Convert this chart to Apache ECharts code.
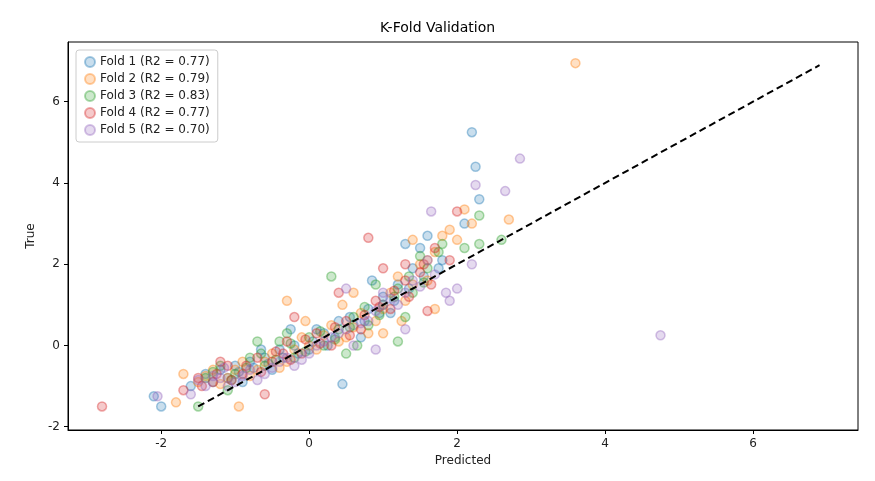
<!DOCTYPE html>
<html>
<head>
<meta charset="utf-8">
<script src="https://cdn.jsdelivr.net/npm/echarts@6/dist/echarts.min.js"></script>
<style>html,body{margin:0;padding:0;background:#fff}#c{width:875px;height:481px}</style>
</head>
<body>
<div id="c"></div>
<script>
// fold names, r2 and colours
const foldNames = ['Fold 1 (R2 = 0.77)', 'Fold 2 (R2 = 0.79)', 'Fold 3 (R2 = 0.83)', 'Fold 4 (R2 = 0.77)', 'Fold 5 (R2 = 0.70)']
const foldColors = ['31,119,180', '255,127,14', '44,160,44', '214,39,40', '148,103,189']
const tickValues = [-2, 0, 2, 4, 6]

// [predicted, true]
const fold1 = [[2.2,5.25],[2.25,4.4],[2.3,3.6],[2.1,3.0],[-2.1,-1.25],[-2.0,-1.5],[0.45,-0.95],[1.3,2.5],[1.6,2.7],
  [-1.4,-0.7],[-1.2,-0.6],[-1.0,-0.5],[-0.8,-0.4],[-0.6,-0.3],[-0.4,-0.1],[-0.2,0.0],[0.0,-0.1],[0.2,0.3],[0.4,0.6],
  [0.6,0.5],[0.8,0.9],[1.0,1.2],[1.2,1.5],[1.4,1.9],[1.5,2.4],[-0.9,-0.9],[-0.5,-0.6],[0.1,0.4],[0.7,0.2],[1.1,0.8],[1.8,2.1],[-1.6,-1.0],
  [-1.3,-0.9],[-1.1,-0.8],[-0.95,-0.65],[-0.75,-0.55],[-0.55,-0.45],[-0.35,-0.3],[-0.15,-0.2],[0.05,0.1],[0.25,0.0],[0.35,0.2],
  [0.55,0.7],[0.75,0.6],[0.95,0.8],[1.15,1.1],[1.35,1.4],[1.55,1.7],[1.75,1.9],[-0.25,0.4],[-0.65,-0.1],[0.85,1.6]]
const fold2 = [[3.6,6.95],[2.7,3.1],[2.1,3.35],[-1.8,-1.4],[-0.3,1.1],[-0.95,-1.5],[1.9,2.85],[1.7,0.9],[2.2,3.0],
  [-1.5,-0.9],[-1.3,-0.6],[-1.1,-0.8],[-0.9,-0.4],[-0.7,-0.6],[-0.5,-0.2],[-0.3,-0.4],[-0.1,0.2],[0.1,-0.1],[0.3,0.5],
  [0.5,0.2],[0.7,0.8],[0.9,0.6],[1.1,1.3],[1.3,1.1],[1.5,2.0],[1.7,2.3],[1.4,2.6],[-1.7,-0.7],[0.6,1.3],[1.0,0.3],[1.6,1.6],
  [-1.4,-0.75],[-1.2,-0.95],[-1.0,-0.6],[-0.8,-0.75],[-0.6,-0.4],[-0.4,-0.55],[-0.2,-0.1],[0.0,0.0],[0.2,0.25],[0.4,0.1],
  [0.6,0.45],[0.8,0.3],[1.0,0.9],[1.2,1.7],[1.4,1.5],[1.6,2.1],[1.8,2.7],[2.0,2.6],[-0.05,0.6],[0.45,1.0],[1.25,0.6]]
const fold3 = [[2.6,2.6],[2.3,3.2],[2.3,2.5],[0.3,1.7],[0.5,-0.2],[1.2,0.1],[-1.5,-1.5],[2.1,2.4],[1.8,2.5],
  [-1.4,-0.8],[-1.2,-0.5],[-1.0,-0.7],[-0.8,-0.3],[-0.6,-0.5],[-0.4,0.1],[-0.2,-0.3],[0.0,0.2],[0.2,0.0],[0.4,0.4],
  [0.6,0.7],[0.8,0.5],[1.0,1.0],[1.2,1.4],[1.4,1.3],[1.6,1.9],[1.5,2.2],[-0.7,0.1],[0.9,1.5],[-1.1,-1.1],[1.3,0.7],
  [-1.3,-0.65],[-1.05,-0.85],[-0.85,-0.55],[-0.65,-0.2],[-0.45,-0.35],[-0.25,0.05],[-0.05,-0.15],[0.15,0.35],[0.35,0.15],
  [0.55,0.45],[0.75,0.95],[0.95,0.75],[1.15,1.2],[1.35,1.7],[1.55,1.55],[1.75,2.3],[-0.3,0.3],[0.65,0.0]]
const fold4 = [[-2.8,-1.5],[0.8,2.65],[-0.35,-0.2],[1.6,0.85],[1.3,2.0],[2.0,3.3],[1.9,2.1],[-0.6,-1.2],
  [-1.5,-0.8],[-1.3,-0.9],[-1.1,-0.5],[-0.9,-0.7],[-0.7,-0.3],[-0.5,-0.4],[-0.3,0.1],[-0.1,-0.2],[0.1,0.3],[0.3,0.0],
  [0.5,0.6],[0.7,0.4],[0.9,1.1],[1.1,0.9],[1.3,1.6],[1.5,1.8],[1.7,2.4],[-0.2,0.7],[0.4,1.3],[1.0,1.9],[-1.7,-1.1],
  [-1.45,-1.0],[-1.25,-0.7],[-1.05,-0.85],[-0.85,-0.5],[-0.65,-0.65],[-0.45,-0.15],[-0.25,-0.35],[-0.05,0.15],[0.15,0.05],
  [0.35,0.45],[0.55,0.25],[0.75,0.75],[0.95,0.95],[1.15,1.35],[1.35,1.2],[1.55,2.0],[1.65,1.5],[-1.2,-0.4]]
const fold5 = [[4.75,0.25],[2.85,4.6],[2.25,3.95],[2.65,3.8],[1.65,3.3],[-2.05,-1.25],[2.0,1.4],[1.9,1.1],[1.0,1.0],
  [-1.4,-1.0],[-1.2,-0.8],[-1.0,-0.9],[-0.8,-0.6],[-0.6,-0.7],[-0.4,-0.4],[-0.2,-0.5],[0.0,-0.2],[0.2,0.1],[0.4,0.3],
  [0.6,0.0],[0.8,0.6],[1.0,1.3],[1.2,1.0],[1.4,1.6],[1.6,2.1],[1.3,0.4],[0.9,-0.1],[-1.6,-1.2],[0.5,1.4],[2.2,2.0],
  [-1.5,-0.85],[-1.3,-0.75],[-1.1,-1.0],[-0.9,-0.75],[-0.7,-0.85],[-0.5,-0.55],[-0.3,-0.3],[-0.1,-0.35],[0.1,0.0],
  [0.3,0.2],[0.5,0.4],[0.7,0.55],[0.9,0.85],[1.1,1.15],[1.3,1.3],[1.5,1.45],[1.7,1.75],[1.85,1.3],[-1.15,-0.55]]
const folds = [fold1, fold2, fold3, fold4, fold5]
const diagLine = [[-1.5, -1.5], [6.9, 6.9]]

const chart = echarts.init(document.getElementById('c'))
const font = 'DejaVu Sans'
const axisCommon = {
  splitLine: { show: false },
  axisLine: { onZero: false, lineStyle: { color: '#000' } },
  axisTick: { show: true, length: 4, customValues: tickValues, lineStyle: { color: '#000' } },
  axisLabel: { customValues: tickValues, color: '#222', fontFamily: font, fontSize: 12 },
  nameLocation: 'middle',
  nameTextStyle: { color: '#222', fontFamily: font, fontSize: 12 }
}

const series = folds.map((d, i) => ({
  name: foldNames[i],
  type: 'scatter',
  data: d,
  symbolSize: 9,
  itemStyle: { color: 'rgba(' + foldColors[i] + ',0.3)', borderColor: 'rgba(' + foldColors[i] + ',0.5)', borderWidth: 1.5 }
}))
series.push({
  type: 'line',
  data: diagLine,
  symbol: 'none',
  lineStyle: { color: '#000', type: [7, 4], width: 2 },
  z: 5
})

chart.setOption({
  animation: false,
  title: { text: 'K-Fold Validation', left: 'center', top: 16,
    textStyle: { fontFamily: font, fontSize: 14, fontWeight: 'normal', color: '#000' } },
  grid: { left: 68, right: 17, top: 42, bottom: 51, show: true, borderColor: '#000', borderWidth: 1 },
  xAxis: Object.assign({}, axisCommon, { type: 'value', min: -3.26, max: 7.42, name: 'Predicted', nameGap: 24 }),
  yAxis: Object.assign({}, axisCommon, { type: 'value', min: -2.08, max: 7.47, name: 'True', nameGap: 30 }),
  legend: {
    data: foldNames, orient: 'vertical', left: 76, top: 50,
    backgroundColor: '#fff', borderColor: '#ccc', borderWidth: 1, borderRadius: 3,
    padding: [6, 8], itemGap: 5, itemWidth: 10, itemHeight: 10, icon: 'circle',
    textStyle: { fontFamily: font, fontSize: 12, color: '#222' }
  },
  series: series
})
</script>
</body>
</html>
